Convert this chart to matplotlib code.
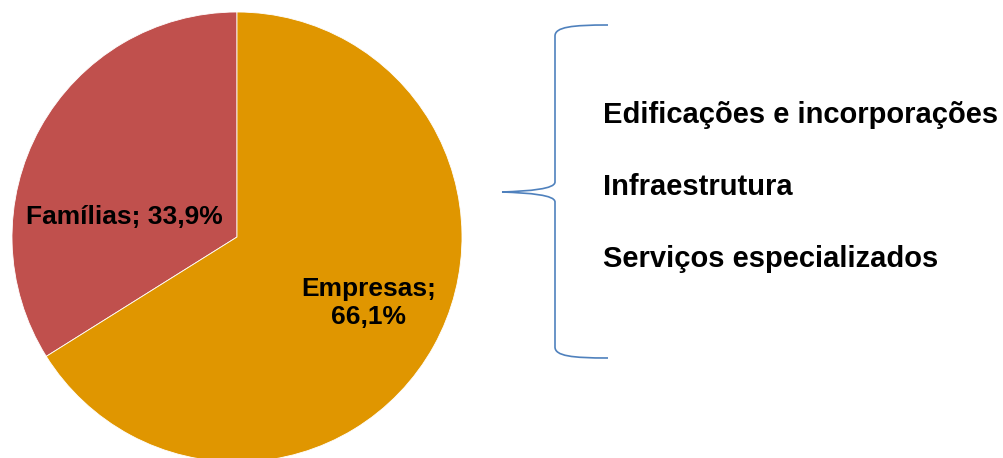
import matplotlib.pyplot as plt
from matplotlib.path import Path
from matplotlib.patches import PathPatch

W, H = 1004, 458

labels = ['Famílias', 'Empresas']
shares = [33.9, 66.1]
colors = ['#C0504D', '#E09600']
segments = ['Edificações e incorporações', 'Infraestrutura', 'Serviços especializados']

plt.rcParams['font.family'] = ['Liberation Sans', 'DejaVu Sans']

fig = plt.figure(figsize=(W / 100, H / 100), dpi=100)
ax = fig.add_axes([0, 0, 1, 1])


def Y(y):
    # pixel rows counted from the top
    return H - y


ax.pie(shares, colors=colors, startangle=90, counterclock=True,
       center=(237, Y(237)), radius=225,
       wedgeprops=dict(edgecolor='white', linewidth=0.6))

ax.text(124, Y(217), f'{labels[0]}; {shares[0]:.1f}%'.replace('.', ','),
        ha='center', va='center', fontsize=19, fontweight='bold')
ax.text(369, Y(303), f'{labels[1]};\n{shares[1]:.1f}%'.replace('.', ','),
        ha='center', va='center', fontsize=19, fontweight='bold',
        linespacing=1.22)

# curly brace
verts = [(608, 25), (572, 25), (555, 27), (555, 36),
         (555, 182),
         (555, 189), (530, 191), (502, 192),
         (530, 193), (555, 195), (555, 202),
         (555, 347),
         (555, 356), (572, 358), (608, 358)]
codes = [Path.MOVETO, Path.CURVE4, Path.CURVE4, Path.CURVE4,
         Path.LINETO,
         Path.CURVE4, Path.CURVE4, Path.CURVE4,
         Path.CURVE4, Path.CURVE4, Path.CURVE4,
         Path.LINETO,
         Path.CURVE4, Path.CURVE4, Path.CURVE4]
verts = [(x, Y(y)) for x, y in verts]
ax.add_patch(PathPatch(Path(verts, codes), facecolor='none',
                       edgecolor='#4F81BD', linewidth=1.2))

for i, s in enumerate(segments):
    ax.text(603, Y(123 + 72 * i), s, ha='left', va='baseline',
            fontsize=21, fontweight='bold')

ax.set_xlim(0, W)
ax.set_ylim(0, H)
ax.set_aspect('auto')
ax.axis('off')

fig.savefig('out.png', dpi=100)
